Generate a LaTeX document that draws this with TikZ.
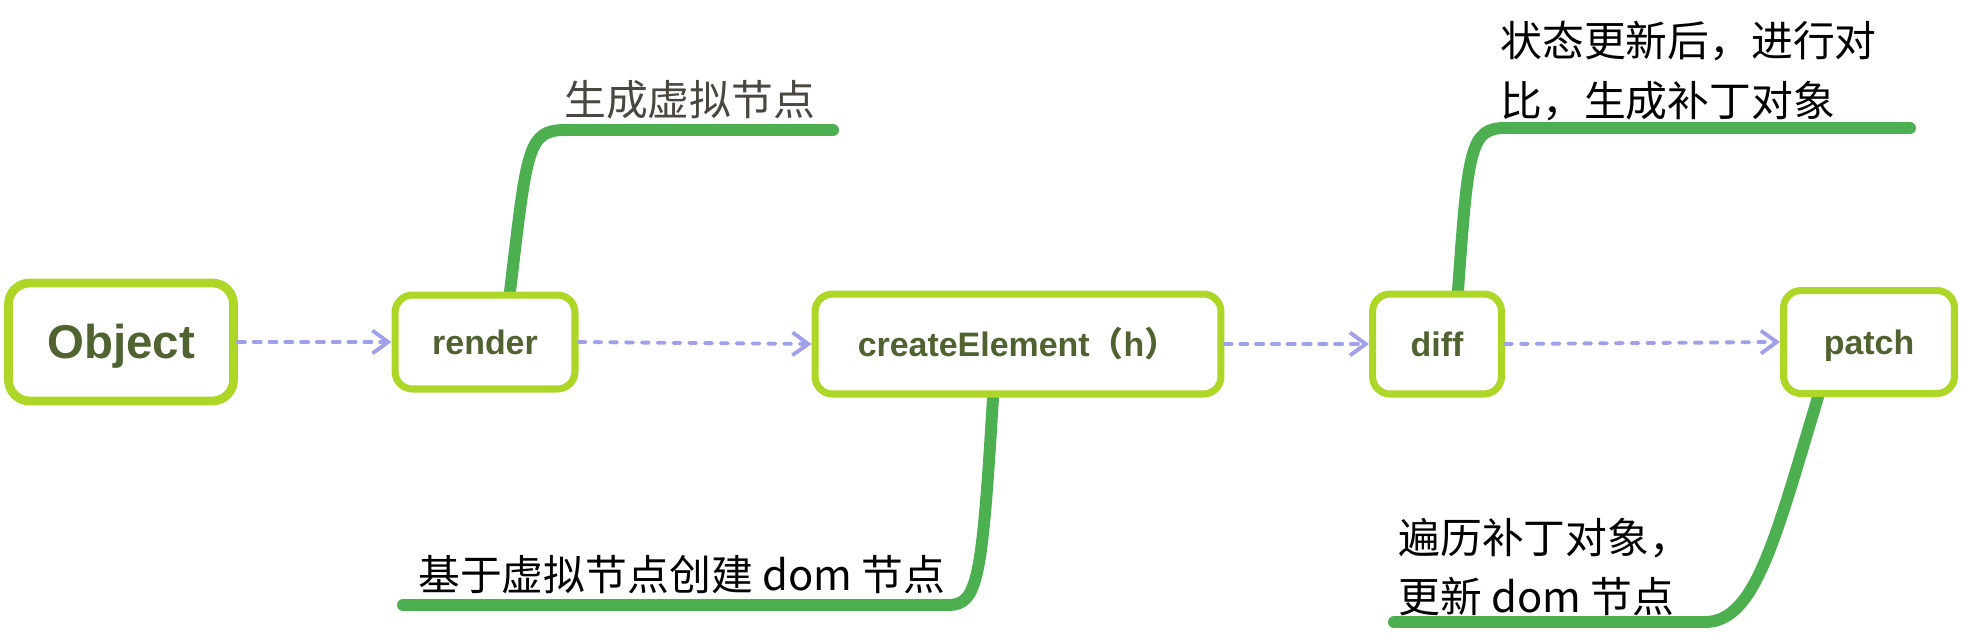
\documentclass[tikz,border=0pt]{standalone}
\usepackage{fontspec}
\setmainfont{Liberation Sans}
\newfontfamily\cjk{Noto Sans CJK SC}
\usetikzlibrary{arrows.meta,backgrounds}
\definecolor{boxline}{HTML}{ADD626}
\definecolor{branchgreen}{HTML}{4CAF50}
\definecolor{boxtext}{HTML}{4F6230}
\definecolor{flowblue}{HTML}{A0A0EA}
\definecolor{notegray}{HTML}{4A4640}
\begin{document}
\begin{tikzpicture}[x=0.02cm, y=-0.02cm,
  stage/.style={draw=boxline, line width=4pt, rounded corners=10pt, fill=white, inner sep=0pt,
    text=boxtext, text height=13.8pt, text depth=0pt, font=\fontsize{19.3}{23}\selectfont\bfseries},
  flow/.style={flowblue, line width=2.2pt, line cap=round, dash pattern=on 4pt off 5pt,
    -{Straight Barb[length=9pt, width=13pt, line width=2.2pt]}},
  branch/.style={branchgreen, line width=6.8pt, line cap=round},
  note/.style={font=\cjk\fontsize{23.8}{34}\selectfont, inner sep=0pt, align=left, anchor=west}]
  \useasboundingbox (0, 0) rectangle (1964, 636);
  \node[stage, line width=5pt, rounded corners=12pt, minimum width=4.5cm, minimum height=2.36cm,
    text height=19.3pt, font=\fontsize{27}{32}\selectfont\bfseries] (obj) at (121, 342) {Object};
  \node[stage, minimum width=3.6cm, minimum height=1.88cm] (render) at (485, 342) {render};
  \node[stage, minimum width=8.12cm, minimum height=2cm] (create) at (1018, 344) {createElement{\cjk （}h{\cjk ）}};
  \node[stage, minimum width=2.58cm, minimum height=2cm] (diff) at (1437, 344) {diff};
  \node[stage, minimum width=3.42cm, minimum height=2.06cm] (patch) at (1869, 342) {patch};
  \foreach \a/\b in {obj/render, render/create, create/diff, diff/patch} {
    \draw[flow] (\a.east) -- (\b.west);
  }
  \node[note, text=notegray] (gen) at (564, 100) {生成虚拟节点};
  \node[note] (build) at (418, 575) {基于虚拟节点创建 dom 节点};
  \node[note] (cmp) at (1500, 71) {状态更新后，进行对\\比，生成补丁对象};
  \node[note] (apply) at (1398, 567) {遍历补丁对象，\\更新 dom 节点};
  \coordinate (genR) at (833, 130);
  \coordinate (buildL) at (403, 605);
  \coordinate (cmpR) at (1910, 128);
  \coordinate (applyL) at (1394, 622);
  \begin{scope}[on background layer]
    \draw[branch] ([xshift=0.5cm]render.north) .. controls (527, 150) and (527, 130) .. (565, 130) -- (genR);
    \draw[branch] ([xshift=-0.5cm]create.south) .. controls (982, 580) and (978, 605) .. (948, 605) -- (buildL);
    \draw[branch] ([xshift=0.42cm]diff.north) .. controls (1468, 150) and (1470, 128) .. (1505, 128) -- (cmpR);
    \draw[branch] ([xshift=-1.02cm]patch.south) .. controls (1775, 540) and (1755, 622) .. (1705, 622) -- (applyL);
  \end{scope}
\end{tikzpicture}
\end{document}
